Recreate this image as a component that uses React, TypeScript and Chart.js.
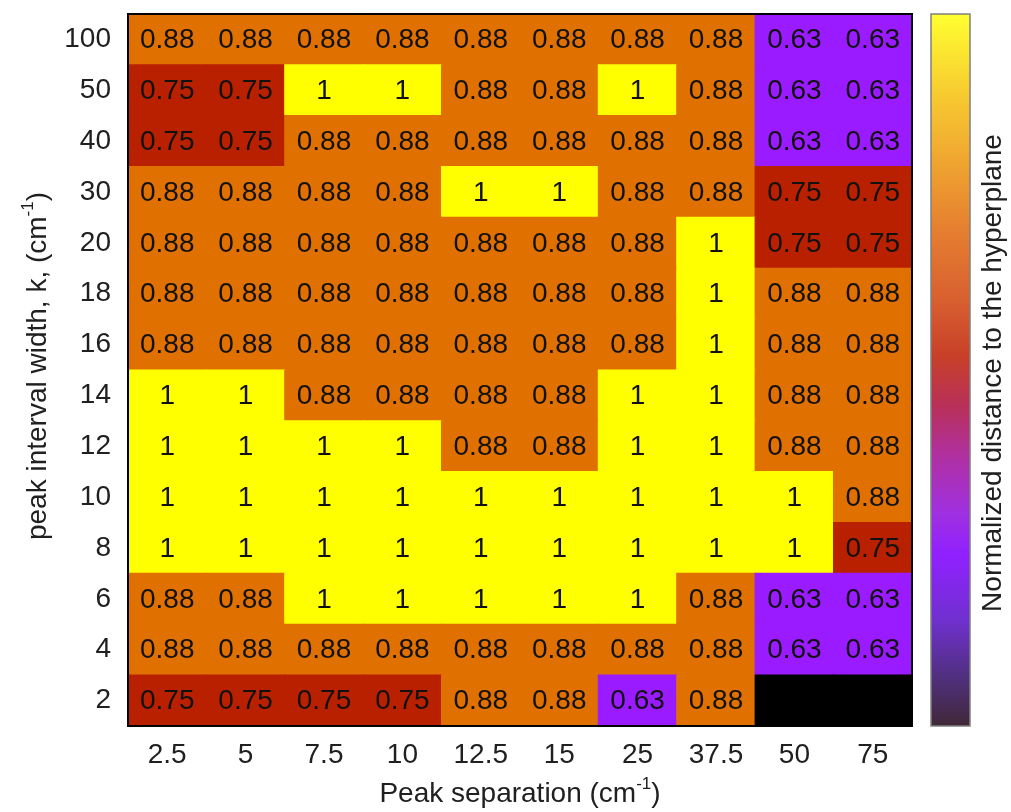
import React, { useEffect, useRef } from "react";
import { Chart, registerables } from "chart.js";
Chart.register(...registerables);

// Peak separation (cm^-1) categories
const xLabels = ["2.5", "5", "7.5", "10", "12.5", "15", "25", "37.5", "50", "75"];
// peak interval width k, bottom to top
const yLabels = ["2", "4", "6", "8", "10", "12", "14", "16", "18", "20", "30", "40", "50", "100"];

// values per row (null = no value, drawn black)
const row2 = [0.75, 0.75, 0.75, 0.75, 0.88, 0.88, 0.63, 0.88, null, null];
const row4 = [0.88, 0.88, 0.88, 0.88, 0.88, 0.88, 0.88, 0.88, 0.63, 0.63];
const row6 = [0.88, 0.88, 1, 1, 1, 1, 1, 0.88, 0.63, 0.63];
const row8 = [1, 1, 1, 1, 1, 1, 1, 1, 1, 0.75];
const row10 = [1, 1, 1, 1, 1, 1, 1, 1, 1, 0.88];
const row12 = [1, 1, 1, 1, 0.88, 0.88, 1, 1, 0.88, 0.88];
const row14 = [1, 1, 0.88, 0.88, 0.88, 0.88, 1, 1, 0.88, 0.88];
const row16 = [0.88, 0.88, 0.88, 0.88, 0.88, 0.88, 0.88, 1, 0.88, 0.88];
const row18 = [0.88, 0.88, 0.88, 0.88, 0.88, 0.88, 0.88, 1, 0.88, 0.88];
const row20 = [0.88, 0.88, 0.88, 0.88, 0.88, 0.88, 0.88, 1, 0.75, 0.75];
const row30 = [0.88, 0.88, 0.88, 0.88, 1, 1, 0.88, 0.88, 0.75, 0.75];
const row40 = [0.75, 0.75, 0.88, 0.88, 0.88, 0.88, 0.88, 0.88, 0.63, 0.63];
const row50 = [0.75, 0.75, 1, 1, 0.88, 0.88, 1, 0.88, 0.63, 0.63];
const row100 = [0.88, 0.88, 0.88, 0.88, 0.88, 0.88, 0.88, 0.88, 0.63, 0.63];

const rows: (number | null)[][] = [row2, row4, row6, row8, row10, row12, row14, row16, row18, row20, row30, row40, row50, row100];

const colorFor = (v: number | null) => {
  if (v === null) return "#000000";
  if (v >= 0.99) return "#ffff00";
  if (v >= 0.85) return "#e07000";
  if (v >= 0.7) return "#b82000";
  return "#9a1bff";
};

const fmt = (v: number) => (v >= 0.999 ? "1" : v.toFixed(2));

const FONT = "'Liberation Sans', Arial, sans-serif";
const TEXT = "#202020";

function drawSupText(ctx: CanvasRenderingContext2D, main: string, sup: string, tail: string, size: number) {
  ctx.font = `${size}px ${FONT}`;
  const w1 = ctx.measureText(main).width;
  const w3 = ctx.measureText(tail).width;
  const sSize = Math.round(size * 0.62);
  ctx.font = `${sSize}px ${FONT}`;
  const w2 = ctx.measureText(sup).width;
  const total = w1 + w2 + w3;
  let x = -total / 2;
  ctx.textAlign = "left";
  ctx.textBaseline = "alphabetic";
  ctx.font = `${size}px ${FONT}`;
  ctx.fillText(main, x, 0);
  x += w1;
  ctx.font = `${sSize}px ${FONT}`;
  ctx.fillText(sup, x, -size * 0.45);
  x += w2;
  ctx.font = `${size}px ${FONT}`;
  ctx.fillText(tail, x, 0);
}

const cellLabels = {
  id: "cellLabels",
  afterDatasetsDraw(chart: any) {
    const ctx = chart.ctx;
    ctx.save();
    ctx.font = `28px ${FONT}`;
    ctx.fillStyle = "#111111";
    ctx.textAlign = "center";
    ctx.textBaseline = "middle";
    chart.data.datasets.forEach((_: any, i: number) => {
      const meta = chart.getDatasetMeta(i);
      meta.data.forEach((el: any, j: number) => {
        const v = rows[i][j];
        if (v === null) return;
        ctx.fillText(fmt(v), el.x, (el.y + el.base) / 2 + 1);
      });
    });
    ctx.restore();
  },
};

const decorations = {
  id: "decorations",
  afterDraw(chart: any) {
    const ctx = chart.ctx;
    const a = chart.chartArea;
    ctx.save();
    // frame
    ctx.strokeStyle = "#000000";
    ctx.lineWidth = 2;
    ctx.strokeRect(a.left, a.top, a.right - a.left, a.bottom - a.top);

    // colorbar
    const cbL = a.right + 19;
    const cbW = 39;
    const g = ctx.createLinearGradient(0, a.top, 0, a.bottom);
    g.addColorStop(0, "#ffff30");
    g.addColorStop(0.1, "#f8d030");
    g.addColorStop(0.2, "#f0a830");
    g.addColorStop(0.3, "#e68030");
    g.addColorStop(0.4, "#d86030");
    g.addColorStop(0.48, "#c84028");
    g.addColorStop(0.55, "#b83058");
    g.addColorStop(0.62, "#b030a0");
    g.addColorStop(0.7, "#a030e0");
    g.addColorStop(0.76, "#9020ff");
    g.addColorStop(0.85, "#7030d0");
    g.addColorStop(0.93, "#503080");
    g.addColorStop(1, "#402838");
    ctx.fillStyle = g;
    ctx.fillRect(cbL, a.top, cbW, a.bottom - a.top);
    ctx.strokeStyle = "#808080";
    ctx.lineWidth = 1.5;
    ctx.strokeRect(cbL, a.top, cbW, a.bottom - a.top);

    ctx.fillStyle = TEXT;
    // colorbar title
    ctx.save();
    ctx.translate(1001, 373);
    ctx.rotate(-Math.PI / 2);
    ctx.font = `28px ${FONT}`;
    ctx.textAlign = "center";
    ctx.textBaseline = "alphabetic";
    ctx.fillText("Normalized distance to the hyperplane", 0, 0);
    ctx.restore();

    // x title
    ctx.save();
    ctx.translate(520, 802);
    drawSupText(ctx, "Peak separation (cm", "-1", ")", 28);
    ctx.restore();

    // y title
    ctx.save();
    ctx.translate(46, 366);
    ctx.rotate(-Math.PI / 2);
    drawSupText(ctx, "peak interval width, k, (cm", "-1", ")", 28);
    ctx.restore();

    ctx.restore();
  },
};

export default function App() {
  const ref = useRef<HTMLCanvasElement>(null);
  useEffect(() => {
    if (!ref.current) return;
    const chart = new Chart(ref.current, {
      type: "bar",
      data: {
        labels: xLabels,
        datasets: rows.map((row, i) => ({
          label: yLabels[i],
          data: row.map(() => [i - 0.5, i + 0.5]) as any,
          backgroundColor: row.map(colorFor),
          borderWidth: 0,
          inflateAmount: 0.6,
          barPercentage: 1,
          categoryPercentage: 1,
          grouped: false,
        })),
      },
      options: {
        responsive: false,
        animation: false,
        layout: { padding: { top: 14, right: 99, left: 0, bottom: 0 } },
        plugins: { legend: { display: false }, tooltip: { enabled: false } },
        scales: {
          x: {
            type: "category",
            grid: { display: false, drawTicks: false },
            border: { display: false },
            ticks: { font: { family: FONT, size: 28 }, color: TEXT, padding: 12, maxRotation: 0, autoSkip: false },
            afterFit: (s: any) => {
              s.height = 86;
              s.paddingLeft = 0;
              s.paddingRight = 0;
            },
          },
          y: {
            type: "linear",
            min: -0.5,
            max: 13.5,
            grid: { display: false, drawTicks: false },
            border: { display: false },
            afterBuildTicks: (s: any) => {
              s.ticks = yLabels.map((_, i) => ({ value: i }));
            },
            ticks: {
              font: { family: FONT, size: 28 },
              color: TEXT,
              padding: 17,
              autoSkip: false,
              callback: (v: any) => yLabels[v as number] ?? "",
            },
            afterFit: (s: any) => {
              s.width = 128;
              s.paddingTop = 0;
              s.paddingBottom = 0;
            },
          },
        },
      },
      plugins: [cellLabels, decorations],
    });
    return () => chart.destroy();
  }, []);
  return (
    <div style={{ position: "absolute", left: 0, top: 0, width: 1011, height: 812, background: "#fff" }}>
      <canvas ref={ref} width={1011} height={812} style={{ display: "block" }} />
    </div>
  );
}
